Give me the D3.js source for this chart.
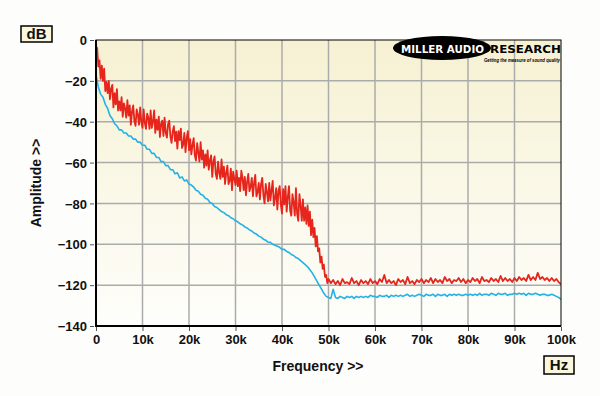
<!DOCTYPE html>
<html lang="en">
<head>
<meta charset="UTF-8">
<script src="https://d3js.org/d3.v7.min.js"></script>
<style>
    body { margin: 0; background: #fdfdfb; font-family: "Liberation Sans", Arial, sans-serif; }
    svg { display: block; }
</style>
</head>
<body>
<script>
    // ---------------- data ----------------
    // red trace, 0 .. 50 kHz every 0.25 kHz (dB)
    const redLowStep = 0.25;
    const redLow = [
        -3, -4, -13, -10, -19, -12.5, -20, -14, -25, -20.5, -26, -20, -29, -24, -22, -33, -26, -31.5, -24, -34.5, -30,
        -34.5, -28, -37.5, -31, -33.5, -38, -29.5, -37, -32, -41.5, -35, -32, -39.5, -42, -34, -36.5, -41.5, -33, -40, -43,
        -34, -40.5, -43.5, -36, -38, -43.5, -34.5, -43, -40, -34.5, -45.5, -39, -44, -37.5, -47.5, -41, -39.5, -47, -38, -45.5,
        -47.8, -41.1, -39.5, -47, -50.4, -44.8, -42.2, -49.5, -44.9, -53.2, -44.6, -49, -43.4, -52.8, -51.2, -45.5, -54.9, -48.2, -44.6, -54,
        -48.5, -56, -51.5, -48, -56.5, -59, -50.5, -55, -59.5, -50, -58.5, -54, -62.5, -56, -61.5, -54, -63.5, -59, -56.5, -67,
        -59.5, -57, -65.5, -68, -59.5, -65, -68, -58.5, -67, -62, -70.5, -65, -61.5, -70.5, -69, -63, -73.5, -64.5, -68, -71,
        -64, -71.5, -67.5, -74, -64, -67.5, -73.5, -67, -76, -69.5, -65.5, -74, -72, -67.5, -76.5, -70, -66, -76.5, -74.5, -70,
        -78, -70.5, -67.5, -76, -80, -70.5, -74.5, -79, -70, -78.5, -73.5, -69, -81, -77.5, -72.5, -83, -74, -71.5, -80.5, -85,
        -73, -80.5, -71.5, -84, -77, -71.5, -83.5, -86, -75.5, -79.5, -86, -72.5, -85, -88.5, -75.5, -81, -88.5, -78, -88.5, -82,
        -90, -81, -91, -84, -95.5, -88, -96.5, -92, -101, -96, -103.5, -102, -109, -106, -112, -110, -116, -115, -119, -117
    ];

    // red trace, 50.5 .. 100 kHz every 0.5 kHz (dB)
    const redHighStart = 50.5;
    const redHighStep = 0.5;
    const redHigh = [
        -119, -117.5, -119.5, -118, -120, -117, -119, -118.5, -119.5, -116.5, -119, -118, -120, -117.5, -119, -118, -119.5, -117, -119, -118,
        -119.5, -117, -118.5, -115, -119, -117.5, -119, -118, -120, -117, -118.5, -117.5, -119.5, -116, -119, -118, -119.5, -117.5, -118.5, -117,
        -119, -117.5, -118.5, -116.5, -119, -117, -118.5, -117.5, -119, -116, -118, -117, -119, -117.5, -118, -116.5, -118.5, -117, -119, -117.5,
        -118.5, -116.5, -118, -117, -119, -116, -118, -117.5, -118.5, -116.5, -118, -117, -118.5, -115.5, -118, -116.5, -118, -117, -118.5, -116.5,
        -118, -116, -117.5, -116.5, -118, -115, -117.5, -116, -117.5, -114, -117, -116, -117.5, -116.5, -118, -116.5, -118, -117, -118.5, -119.5
    ];

    // blue trace, 0 .. 100 kHz every 0.5 kHz (dB)
    const blueStep = 0.5;
    const blueValues = [
        -17, -23, -26.5, -28, -31.5, -33.5, -37, -38.5, -41, -42, -44, -44, -45.5, -45.5, -47, -47, -48.5, -48.5, -50, -50, -51.5,
        -51.5, -53.5, -53.5, -55.5, -55.5, -57.5, -57.5, -59.5, -59.5, -61.5, -61.5, -63.5, -63.5, -65.5, -65, -67.5, -67, -69, -68.5, -70.5,
        -71, -72, -73.5, -74, -75.5, -76, -77.5, -78, -79.5, -80, -81.5, -82, -83, -84, -84.5, -85.5, -86, -87, -87.5, -88.5,
        -89, -90, -90.5, -91.5, -92, -93, -93.5, -94.5, -95, -96, -96.5, -97.5, -98, -99, -99, -100, -100.5, -101, -101.5, -102.5,
        -102.5, -103.5, -104, -105, -105.5, -106.5, -107, -108, -109, -110, -111, -112.5, -114, -116, -118, -120, -122, -124, -125.5, -126,
        -126.5, -122, -126, -126.5, -125.5, -126, -126.5, -125.5, -126, -125.5, -126.5, -125.5, -126, -125.5, -126, -125.5, -126, -125, -125.5, -125.5,
        -126, -125, -125.5, -125.5, -125, -126, -125, -125.5, -125, -125.5, -125, -125.5, -125, -124.5, -125.5, -125, -125.5, -125, -124.5, -125,
        -125.5, -124.5, -125, -125, -124.5, -125.5, -124.5, -125, -125, -124.5, -125.5, -124.5, -125, -124.5, -125, -124.5, -125, -125, -124.5, -125,
        -124.5, -125, -124.5, -125, -124, -125, -124.5, -124.5, -125, -124, -124.5, -125, -124, -124.5, -124.5, -124, -125, -124.5, -124.5, -124,
        -124.5, -124, -124.5, -124, -125, -124, -124.5, -124.5, -124, -124.5, -125, -124.5, -124.5, -125, -125, -124.5, -125, -125.5, -126, -127
    ];

    const xTicks = [0, 10, 20, 30, 40, 50, 60, 70, 80, 90, 100];
    const xTickLabels = ["0", "10k", "20k", "30k", "40k", "50k", "60k", "70k", "80k", "90k", "100k"];
    const yTicks = [0, -20, -40, -60, -80, -100, -120, -140];

    // ---------------- layout ----------------
    const W = 600, H = 396;
    const plot = { left: 96, right: 561, top: 40, bottom: 326 };

    const x = d3.scaleLinear().domain([0, 100]).range([plot.left, plot.right]);
    const y = d3.scaleLinear().domain([-140, 0]).range([plot.bottom, plot.top]);

    // [kHz, dB] pairs
    const redPoints = redLow.map((v, i) => [i * redLowStep, v])
        .concat(redHigh.map((v, i) => [redHighStart + i * redHighStep, v]));
    const bluePoints = blueValues.map((v, i) => [i * blueStep, v]);

    const svg = d3.select("body").append("svg")
        .attr("width", W)
        .attr("height", H);

    const defs = svg.append("defs");
    const grad = defs.append("linearGradient")
        .attr("id", "bg").attr("x1", 0).attr("y1", 0).attr("x2", 0).attr("y2", 1);
    grad.append("stop").attr("offset", "0%").attr("stop-color", "#f6f1d2");
    grad.append("stop").attr("offset", "100%").attr("stop-color", "#fefefb");

    svg.append("clipPath").attr("id", "clip")
        .append("rect")
        .attr("x", plot.left).attr("y", plot.top - 2)
        .attr("width", plot.right - plot.left).attr("height", plot.bottom - plot.top + 2);

    // plot background
    svg.append("rect")
        .attr("x", plot.left).attr("y", plot.top)
        .attr("width", plot.right - plot.left)
        .attr("height", plot.bottom - plot.top)
        .attr("fill", "url(#bg)");

    // grid
    svg.append("g").selectAll("line")
        .data(xTicks.slice(1, -1))
        .join("line")
        .attr("x1", d => x(d)).attr("x2", d => x(d))
        .attr("y1", plot.top).attr("y2", plot.bottom)
        .attr("stroke", "#ababab").attr("stroke-width", 1.5);
    svg.append("g").selectAll("line")
        .data(yTicks.slice(1, -1))
        .join("line")
        .attr("x1", plot.left).attr("x2", plot.right)
        .attr("y1", d => y(d)).attr("y2", d => y(d))
        .attr("stroke", "#ababab").attr("stroke-width", 1.5);

    // logo
    const logo = svg.append("g");
    logo.append("ellipse")
        .attr("cx", 442).attr("cy", 48).attr("rx", 49).attr("ry", 12)
        .attr("fill", "#000");
    logo.append("text")
        .attr("x", 401).attr("y", 52.5)
        .attr("font-size", 10.5).attr("font-weight", 900)
        .attr("font-family", "'DejaVu Sans', sans-serif")
        .attr("textLength", 83).attr("lengthAdjust", "spacingAndGlyphs")
        .attr("fill", "#fff")
        .text("MILLER AUDIO");
    logo.append("text")
        .attr("x", 490).attr("y", 52.5)
        .attr("font-size", 10.5).attr("font-weight", 900)
        .attr("font-family", "'DejaVu Sans', sans-serif")
        .attr("textLength", 71).attr("lengthAdjust", "spacingAndGlyphs")
        .attr("fill", "#000")
        .text("RESEARCH");
    logo.append("text")
        .attr("x", 484).attr("y", 61.5)
        .attr("font-size", 5).attr("font-weight", "bold").attr("font-style", "italic")
        .attr("textLength", 76).attr("lengthAdjust", "spacingAndGlyphs")
        .attr("fill", "#000")
        .text("Getting the measure of sound quality");

    // traces
    const line = d3.line()
        .x(d => x(d[0]))
        .y(d => y(d[1]));

    const traces = svg.append("g").attr("clip-path", "url(#clip)");
    traces.append("path")
        .datum(bluePoints)
        .attr("d", line)
        .attr("fill", "none")
        .attr("stroke", "#22b2e6")
        .attr("stroke-width", 1.6)
        .attr("stroke-linejoin", "round");
    traces.append("path")
        .datum(redPoints)
        .attr("d", line)
        .attr("fill", "none")
        .attr("stroke", "#e6261c")
        .attr("stroke-width", 1.8)
        .attr("stroke-linejoin", "round");

    // frame
    svg.append("rect")
        .attr("x", plot.left).attr("y", plot.top)
        .attr("width", plot.right - plot.left)
        .attr("height", plot.bottom - plot.top)
        .attr("fill", "none").attr("stroke", "#000").attr("stroke-width", 1);
    svg.append("path")
        .attr("d", `M${plot.left},${plot.top}V${plot.bottom}H${plot.right}`)
        .attr("fill", "none").attr("stroke", "#000").attr("stroke-width", 2);

    // axes
    const yAxis = svg.append("g")
        .attr("transform", `translate(${plot.left - 2},0)`)
        .call(d3.axisLeft(y).tickValues(yTicks).tickSize(4).tickPadding(3));
    const xAxis = svg.append("g")
        .attr("transform", `translate(0,${plot.bottom + 1})`)
        .call(d3.axisBottom(x).tickValues(xTicks).tickFormat((d, i) => xTickLabels[i]).tickSize(4).tickPadding(4));

    [yAxis, xAxis].forEach(a => {
        a.select(".domain").remove();
        a.selectAll(".tick line").attr("stroke", "#555");
        a.selectAll("text")
            .attr("fill", "#111")
            .attr("font-size", 13)
            .attr("font-weight", "bold")
            .attr("font-family", "'Liberation Sans', Arial, sans-serif");
    });
    yAxis.selectAll("text").attr("dy", "0.36em");

    // axis titles
    svg.append("text")
        .attr("x", 318).attr("y", 371)
        .attr("text-anchor", "middle")
        .attr("font-size", 14).attr("font-weight", "bold")
        .attr("fill", "#111")
        .text("Frequency >>");
    svg.append("text")
        .attr("transform", "translate(41,183) rotate(-90)")
        .attr("text-anchor", "middle")
        .attr("font-size", 14).attr("font-weight", "bold")
        .attr("fill", "#111")
        .text("Amplitude >>");

    // unit boxes
    function unitBox(bx, by, bw, bh, label) {
        svg.append("rect")
            .attr("x", bx).attr("y", by).attr("width", bw).attr("height", bh)
            .attr("fill", "#faf7dd").attr("stroke", "#000").attr("stroke-width", 1.5);
        svg.append("text")
            .attr("x", bx + bw / 2).attr("y", by + bh / 2 + 5)
            .attr("text-anchor", "middle")
            .attr("font-size", 15).attr("font-weight", "bold")
            .attr("fill", "#111")
            .text(label);
    }
    unitBox(21, 26, 31, 16, "dB");
    unitBox(544, 356, 30, 18, "Hz");
</script>
</body>
</html>
